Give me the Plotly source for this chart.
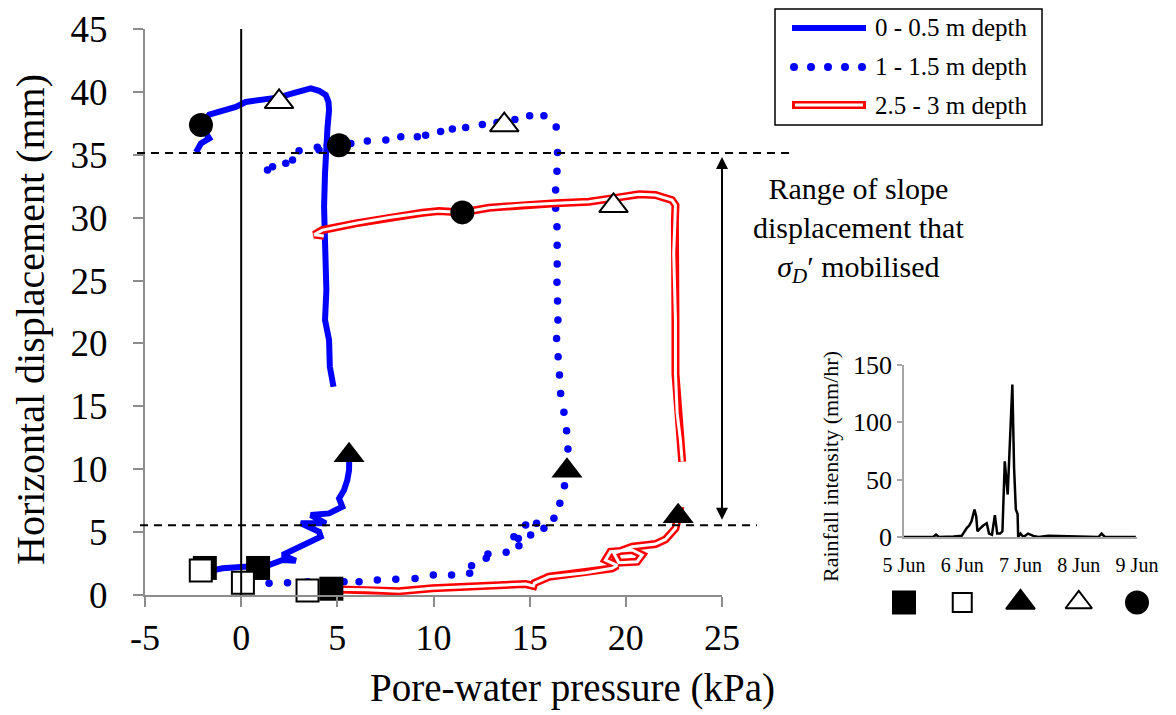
import plotly.graph_objects as go

W, H = 1176, 715
FONT = "Liberation Serif, Times New Roman, serif"

# ---------------- data ----------------
# 0 - 0.5 m depth (solid blue); None separates data gap
solid_x = [-1.9, -1.5, -0.97, 0.24, 1.45, 2.15, 2.84, 2.15, 2.67, 3.53, 4.14, 4.05, 3.36, 3.10, 4.40,
           3.62, 4.57, 5.26, 5.09, 5.35, 5.52, 5.61, 5.62,
           None,
           4.80, 4.61, 4.57, 4.36, 4.43, 4.36, 4.31, 4.36, 4.40, 4.49, 4.57, 4.54, 4.40, 4.05, 3.62,
           3.19, 2.67, 1.97, 1.11, 0.24, -0.28, -0.97, -1.66, -2.09, -1.66, -2.09, -2.35]
solid_y = [2.0, 1.95, 2.12, 2.25, 2.38, 2.78, 2.73, 3.18, 3.58, 4.24, 4.64, 5.03, 5.43, 5.70, 5.70,
           6.36, 6.49, 7.02, 7.68, 8.35, 9.14, 9.94, 11.0,
           None,
           16.56, 18.15, 20.27, 21.86, 24.24, 26.9, 30.87, 33.52, 35.6, 37.2, 38.55, 39.2, 39.75, 40.09, 40.28,
           40.13, 39.88, 39.56, 39.35, 39.2, 38.8, 38.55, 38.2, 37.36, 36.3, 35.9, 35.2]

# 1 - 1.5 m depth (blue dots)
dot_x = [0.09, 1.45, 2.41, 3.45, 4.42, 5.35, 6.13, 7.08, 8.04, 9.04, 9.99, 10.94, 11.88, 11.98, 12.74,
         12.83, 13.78, 14.44, 14.41, 14.18, 15.05, 14.79, 15.36, 15.74, 16.26, 16.57, 16.81, 16.92,
         16.99, 16.92, 16.78, 16.61, 16.55, 16.48, 16.40, 16.47, 16.45, 16.42, 16.43, 16.43, 16.42,
         16.35, 16.35, 16.42, 16.45, 16.38, 15.74, 15.0, 14.23, 13.3, 12.54, 11.67, 10.98, 10.37, 9.59,
         9.16, 8.3, 7.52, 6.56, 5.70, 5.09, 4.48, 3.96, 4.05, 3.01, 2.67, 2.32, 1.63, 1.37]
dot_y = [0.98, 0.93, 0.98, 1.06, 1.06, 1.06, 1.06, 1.19, 1.25, 1.32, 1.59, 1.59, 1.72, 2.33, 2.92,
         3.26, 3.39, 3.92, 4.5, 4.64, 4.77, 5.56, 5.70, 5.30, 6.10, 7.29, 8.69, 10.15,
         11.6, 13.06, 14.52, 16.03, 17.49, 18.94, 20.4, 21.86, 23.37, 24.86, 26.31, 27.8, 29.28,
         30.74, 32.2, 33.7, 35.19, 37.2, 38.1, 38.1, 37.8, 37.57, 37.4, 37.17, 37.04, 36.86, 36.56,
         36.43, 36.43, 36.17, 36.09, 35.9, 35.77, 35.77, 35.6, 35.37, 35.32, 34.58, 34.32, 34.05, 33.78]

# 2.5 - 3 m depth (red double line)
red_x = [4.69, 6.5, 8.2, 9.94, 11.7, 13.23, 14.79, 15.2, 15.25, 16.0, 17.9, 19.29, 19.55, 18.94, 19.2,
         20.33, 20.85, 20.59, 19.64, 19.38, 20.33, 21.54, 22.06, 22.58, 22.84,
         None,
         22.93, 22.84, 22.67, 22.58, 22.58, 22.49, 22.55, 22.58, 22.4, 21.54, 20.68, 19.81, 18.08, 16.35,
         14.61, 12.88, 11.5, 10.29, 9.42, 7.69, 5.96, 4.22, 3.8, 4.3]
red_y = [0.45, 0.42, 0.3, 0.53, 0.66, 0.79, 0.87, 0.72, 0.95, 1.45, 1.77, 2.12, 2.35, 2.78, 3.44,
         3.58, 3.18, 2.65, 2.57, 3.31, 3.84, 4.05, 4.42, 5.30, 7.02,
         None,
         10.6, 12.3, 14.44, 17.6, 21.86, 27.16, 29.68, 31.0, 31.4, 31.8, 31.86, 31.65, 31.27, 31.14,
         31.0, 30.79, 30.42, 30.52, 30.39, 30.02, 29.55, 29.01, 28.65, 28.55]

# date markers (5 Jun .. 9 Jun) on each curve
sq_fill_x, sq_fill_y = [-1.89, 0.88, 4.69], [2.15, 2.15, 0.5]
sq_open_x, sq_open_y = [-2.1, 0.09, 3.45], [1.94, 0.98, 0.35]
tri_fill_x, tri_fill_y = [5.61, 16.94, 22.72], [11.12, 9.88, 6.27]
tri_open_x, tri_open_y = [1.97, 13.68, 19.36], [39.21, 37.36, 30.94]
circ_x, circ_y = [-2.09, 5.09, 11.5], [37.36, 35.75, 30.42]

# reference lines
upper_disp = 35.15
lower_disp = 5.55

# axis ticks
x_ticks = [-5, 0, 5, 10, 15, 20, 25]
x_tick_text = ["-5", "0", "5", "10", "15", "20", "25"]
y_ticks = [0, 5, 10, 15, 20, 25, 30, 35, 40, 45]

# inset rainfall (days after 5 Jun, mm/hr)
rain_day = [0, 0.50, 0.55, 0.60, 0.85, 0.99, 1.08, 1.12, 1.16, 1.21, 1.24, 1.26, 1.30, 1.36, 1.42,
            1.46, 1.51, 1.56, 1.60, 1.65, 1.69, 1.73, 1.78, 1.82, 1.86, 1.89, 1.92, 1.95, 1.96, 2.00,
            2.05, 2.13, 2.22, 2.31, 2.48, 3.34, 3.39, 3.45, 3.98]
rain_mm = [0, 0, 2, 0, 0.5, 1, 8, 10, 14, 24, 18, 5, 7, 10, 12,
           3, 2, 19, 3, 3, 5, 66, 37, 90, 133, 60, 24, 20, 0, 3,
           0, 3, 1, 0, 1, 0, 3, 0, 0]
inset_y_ticks = [0, 50, 100, 150]
inset_tick_days = [0, 1, 2, 3, 4]
inset_tick_text = ["5 Jun", "6 Jun", "7 Jun", "8 Jun", "9 Jun"]
key_level = [0.5, 0.5, 0.5, 0.5, 0.5]

legend_labels = ["0 - 0.5 m depth", "1 - 1.5 m depth", "2.5 - 3 m depth"]


# ---------------- helpers (pixel -> paper) ----------------
def px(x):
    return x / W


def py(y):
    return 1 - y / H


BLUE = "#0000FF"
RED = "#FF0000"
AXGRAY = "#8c8c8c"
INGRAY = "#a6a6a6"

fig = go.Figure()

fig.add_trace(go.Scatter(x=solid_x, y=solid_y, mode="lines", line=dict(color=BLUE, width=6),
                         connectgaps=False, showlegend=False, hoverinfo="skip"))
fig.add_trace(go.Scatter(x=dot_x, y=dot_y, mode="markers", marker=dict(color=BLUE, size=7.5, opacity=1),
                         showlegend=False, hoverinfo="skip"))
fig.add_trace(go.Scatter(x=red_x, y=red_y, mode="lines", line=dict(color=RED, width=8),
                         connectgaps=False, showlegend=False, hoverinfo="skip"))
fig.add_trace(go.Scatter(x=red_x, y=red_y, mode="lines", line=dict(color="white", width=3),
                         connectgaps=False, showlegend=False, hoverinfo="skip"))

mk_common = dict(mode="markers", showlegend=False, hoverinfo="skip", cliponaxis=False)
fig.add_trace(go.Scatter(x=sq_fill_x, y=sq_fill_y,
                         marker=dict(symbol="square", size=24, color="black", opacity=1), **mk_common))
fig.add_trace(go.Scatter(x=sq_open_x, y=sq_open_y,
                         marker=dict(symbol="square", size=22, color="white", opacity=1,
                                     line=dict(color="black", width=2)), **mk_common))
fig.add_trace(go.Scatter(x=tri_fill_x, y=tri_fill_y,
                         marker=dict(symbol="triangle-up", size=27, color="black", opacity=1), **mk_common))
fig.add_trace(go.Scatter(x=tri_open_x, y=tri_open_y,
                         marker=dict(symbol="triangle-up", size=25, color="white", opacity=1,
                                     line=dict(color="black", width=2)), **mk_common))
fig.add_trace(go.Scatter(x=circ_x, y=circ_y,
                         marker=dict(symbol="circle", size=24, color="black", opacity=1), **mk_common))

# inset
fig.add_trace(go.Scatter(x=rain_day, y=rain_mm, mode="lines", line=dict(color="black", width=2.5),
                         xaxis="x2", yaxis="y2", showlegend=False, hoverinfo="skip"))
key_syms = ["square", "square", "triangle-up", "triangle-up", "circle"]
key_fill = ["black", "white", "black", "white", "black"]
fig.add_trace(go.Scatter(x=inset_tick_days, y=key_level, mode="markers", xaxis="x3", yaxis="y3",
                         cliponaxis=False, showlegend=False, hoverinfo="skip",
                         marker=dict(symbol=key_syms, size=[22, 19, 25, 23, 22], color=key_fill, opacity=1,
                                     line=dict(color="black", width=2))))

shapes = [
    dict(type="line", xref="x", yref="y", x0=0, x1=0, y0=0, y1=45, line=dict(color="black", width=2), layer="above"),
    dict(type="line", xref="paper", yref="y", x0=px(137), x1=px(790), y0=upper_disp, y1=upper_disp,
         line=dict(color="black", width=2, dash="8px,6px"), layer="above"),
    dict(type="line", xref="paper", yref="y", x0=px(140), x1=px(757), y0=lower_disp, y1=lower_disp,
         line=dict(color="black", width=2, dash="8px,6px"), layer="above"),
    dict(type="rect", xref="paper", yref="paper", x0=px(775), x1=px(1042), y0=py(125), y1=py(9),
         line=dict(color="black", width=1.5), fillcolor="white", layer="above"),
    dict(type="line", xref="paper", yref="paper", x0=px(792), x1=px(866), y0=py(28), y1=py(28),
         line=dict(color=BLUE, width=6), layer="above"),
    dict(type="line", xref="paper", yref="paper", x0=px(792), x1=px(866), y0=py(105), y1=py(105),
         line=dict(color=RED, width=8), layer="above"),
    dict(type="line", xref="paper", yref="paper", x0=px(795), x1=px(863), y0=py(105), y1=py(105),
         line=dict(color="white", width=3), layer="above"),
]
for cx in [794, 811, 828, 845, 862]:
    shapes.append(dict(type="circle", xref="paper", yref="paper", x0=px(cx - 4), x1=px(cx + 4),
                       y0=py(67 + 4), y1=py(67 - 4), fillcolor=BLUE, line=dict(width=0), layer="above"))

annotations = [
    dict(text="Pore-water pressure (kPa)", xref="paper", yref="paper", x=px(572), y=py(688),
         showarrow=False, font=dict(family=FONT, size=39, color="black"), xanchor="center", yanchor="middle"),
    dict(text="Horizontal displacement (mm)", xref="paper", yref="paper", x=px(31), y=py(320),
         showarrow=False, textangle=-90, font=dict(family=FONT, size=40, color="black"),
         xanchor="center", yanchor="middle"),
    dict(text="Range of slope<br>displacement that<br><i>σ<sub>D</sub></i>′ mobilised", xref="paper", yref="paper",
         x=px(858), y=py(230), showarrow=False, font=dict(family=FONT, size=30, color="black"),
         xanchor="center", yanchor="middle", align="center"),
    dict(text="Rainfall intensity (mm/hr)", xref="paper", yref="paper", x=px(830), y=py(466),
         showarrow=False, textangle=-90, font=dict(family=FONT, size=22, color="black"),
         xanchor="center", yanchor="middle"),
    dict(x=25, y=upper_disp, ax=25, ay=lower_disp, xref="x", yref="y", axref="x", ayref="y", text="",
         showarrow=True, arrowhead=2, arrowside="end+start", arrowsize=1.2, arrowwidth=2, arrowcolor="black",
         standoff=4, startstandoff=4),
]
for lbl, yy in zip(legend_labels, [28, 67, 105]):
    annotations.append(dict(text=lbl, xref="paper", yref="paper", x=px(873), y=py(yy), showarrow=False,
                            xanchor="left", yanchor="middle", font=dict(family=FONT, size=25, color="black")))

fig.update_layout(
    width=W, height=H, margin=dict(l=0, r=0, t=0, b=0, autoexpand=False),
    paper_bgcolor="white", plot_bgcolor="rgba(0,0,0,0)",
    font=dict(family=FONT, color="black"),
    shapes=shapes, annotations=annotations,
    xaxis=dict(domain=[px(145), px(722)], range=[-5, 25], tickvals=x_ticks, ticktext=x_tick_text,
               showgrid=False, zeroline=False, showline=True, linecolor=AXGRAY, linewidth=2,
               ticks="outside", ticklen=10, tickwidth=2, tickcolor=AXGRAY, automargin=False,
               tickfont=dict(family=FONT, size=36, color="black"), anchor="y"),
    yaxis=dict(domain=[py(595), py(29)], range=[0, 45], tickvals=y_ticks,
               showgrid=False, zeroline=False, showline=True, linecolor=AXGRAY, linewidth=2,
               ticks="outside", ticklen=10, tickwidth=2, tickcolor=AXGRAY, ticklabelstandoff=18,
               automargin=False, tickfont=dict(family=FONT, size=37, color="black"), anchor="x"),
    xaxis2=dict(domain=[px(904), px(1137)], range=[0, 4], tickvals=inset_tick_days, ticktext=inset_tick_text,
                showgrid=False, zeroline=False, showline=True, linecolor=INGRAY, linewidth=1.5,
                ticks="", ticklabelstandoff=9, automargin=False,
                tickfont=dict(family=FONT, size=20, color="black"), anchor="y2"),
    yaxis2=dict(domain=[py(537), py(365)], range=[0, 150], tickvals=inset_y_ticks,
                showgrid=False, zeroline=False, showline=True, linecolor=INGRAY, linewidth=1.5,
                ticks="outside", ticklen=5, tickcolor=INGRAY, tickwidth=1.5, automargin=False,
                tickfont=dict(family=FONT, size=26, color="black"), anchor="x2"),
    xaxis3=dict(domain=[px(904), px(1137)], range=[0, 4], visible=False, anchor="y3"),
    yaxis3=dict(domain=[py(615), py(590)], range=[0, 1], visible=False, anchor="x3"),
)

fig.write_html("out.html")
